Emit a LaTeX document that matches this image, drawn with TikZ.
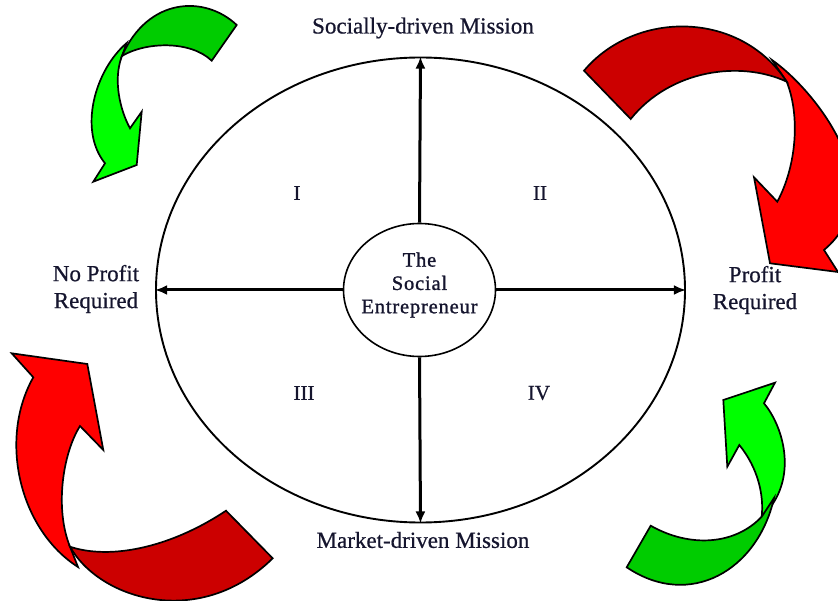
\documentclass[tikz,border=0pt]{standalone}
\usepackage{fontspec}
\setmainfont{Liberation Serif}[FakeBold=0.6]
\newfontfamily\hubfont{Liberation Serif}[LetterSpace=4, FakeBold=1.2]
\usetikzlibrary{shapes.geometric,arrows.meta}

\definecolor{ink}{HTML}{15152E}
\definecolor{litegreen}{HTML}{00FF00}
\definecolor{deepgreen}{HTML}{00CC00}
\definecolor{litered}{HTML}{FF0000}
\definecolor{deepred}{HTML}{CC0000}

\tikzset{
  ring/.style={draw=black, line width=1.9pt, ellipse, inner sep=0pt},
  axis/.style={draw=black, line width=3pt, -{Latex[length=12pt,width=10pt]}},
  pole/.style={text=ink, font=\fontsize{23}{27}\selectfont, align=center, inner sep=0pt},
  quadrant/.style={text=ink, font=\fontsize{21}{25}\selectfont, inner sep=0pt},
  hublabel/.style={text=ink, font=\hubfont\fontsize{20.5}{23.3}\selectfont, align=center, inner sep=0pt},
  swoosh/.style={draw=black, line width=1.7pt, line join=miter},
}

\begin{document}
\begin{tikzpicture}[x=1pt, y=-1pt]
\useasboundingbox (0,0) rectangle (838,601);

% curved arrows in the four corners
\begin{scope}
  \clip (0,0) rectangle (838,601);

  % top left, green
  \path[swoosh, fill=litegreen]
    (126.7,43) .. controls (95,70) and (78,130) .. (105,163.3)
    -- (93.3,181.7) -- (136.7,165) -- (141.7,111.7) -- (130,128.3)
    .. controls (120,110) and (113,80) .. (121.7,56.7) -- cycle;
  \path[swoosh, fill=deepgreen]
    (236.7,25) .. controls (205,-5) and (148,-3) .. (122,56)
    .. controls (145,42) and (190,40) .. (211.7,60.7) -- cycle;

  % top right, red
  \path[swoosh, fill=litered]
    (772,60) .. controls (815,90) and (895,190) .. (824,250)
    -- (838,272) -- (770,263.3) -- (754,177.3) -- (777.3,201.7)
    .. controls (797,165) and (800,115) .. (786.7,81.7) -- cycle;
  \path[swoosh, fill=deepred]
    (584,70.7) .. controls (635,10) and (740,10) .. (786.7,81.7)
    .. controls (740,60) and (670,70) .. (630.7,119) -- cycle;

  % bottom left, red
  \path[swoosh, fill=litered]
    (11.7,353.3) -- (87.3,364) -- (103.3,450) -- (80,426)
    .. controls (62,455) and (55,510) .. (70,546.7)
    -- (78,567) .. controls (20,530) and (-2,440) .. (33.3,377.3) -- cycle;
  \path[swoosh, fill=deepred]
    (226,510.7) .. controls (170,548) and (110,560) .. (70,546.7)
    .. controls (100,600) and (200,630) .. (272.7,558.3) -- cycle;

  % bottom right, green
  \path[swoosh, fill=litegreen]
    (723.3,400) -- (775,382.7) -- (764,403.3)
    .. controls (782,425) and (796,470) .. (772,505)
    -- (761.7,516.7) .. controls (764,495) and (758,468) .. (739.3,445)
    -- (727.3,466.7) -- cycle;
  \path[swoosh, fill=deepgreen]
    (650.7,525.7) .. controls (690,548) and (735,545) .. (761.7,516.7)
    -- (774,498) .. controls (758,570) and (690,610) .. (626.7,567.3) -- cycle;
\end{scope}

% the two ellipses
\node[ring, minimum width=529pt, minimum height=465pt] (outer) at (420.5,290) {};
\node[ring, line width=1.6pt, minimum width=152pt, minimum height=133pt] (hub) at (419.5,290) {};
\node[hublabel] (hubtext) at (419.5,285) {The\\Social\\Entrepreneur};

% the two axes
\draw[axis] (hub.north) -- (outer.north);
\draw[axis] (hub.south) -- (outer.south);
\draw[axis] (hub.west) -- (outer.west);
\draw[axis] (hub.east) -- (outer.east);

% pole labels
\node[pole] (social) at (423,28) {Socially-driven Mission};
\node[pole] (market) at (423,540) {Market-driven Mission};
\node[pole] (noprofit) at (96,289) {No Profit\\Required};
\node[pole] (profit) at (755,290) {Profit\\Required};

% quadrant numerals
\node[quadrant] (q1) at (297,193) {I};
\node[quadrant] (q2) at (540,193) {II};
\node[quadrant] (q3) at (304,393) {III};
\node[quadrant] (q4) at (539,393) {IV};
\end{tikzpicture}
\end{document}
